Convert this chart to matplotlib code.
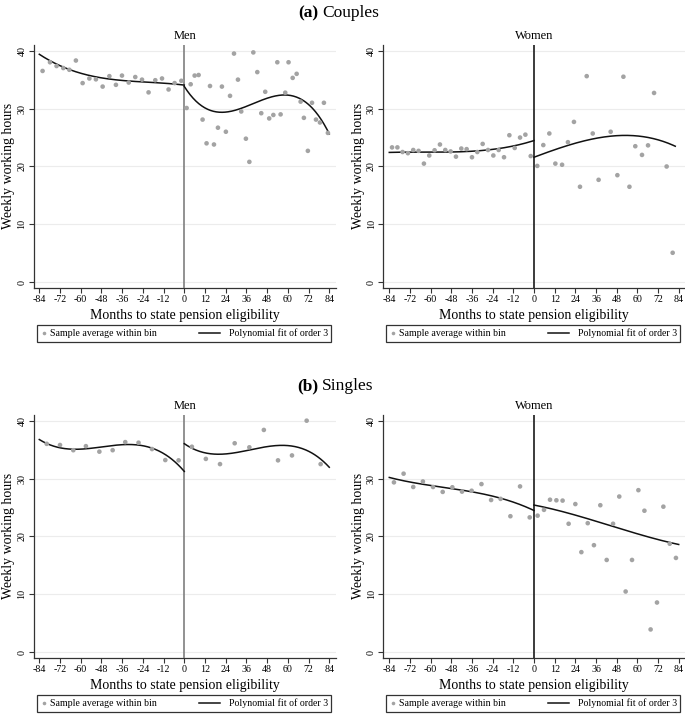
import numpy as np
import matplotlib
matplotlib.use("Agg")
import matplotlib.pyplot as plt
from matplotlib.patches import Rectangle

plt.rcParams['font.family'] = ['Liberation Serif', 'DejaVu Serif']
plt.rcParams['axes.unicode_minus'] = False

x_ticks = [-84, -72, -60, -48, -36, -24, -12, 0, 12, 24, 36, 48, 60, 72, 84]
y_ticks = [0, 10, 20, 30, 40]
legend_labels = ['Sample average within bin', 'Polynomial fit of order 3']

# ---------------- Couples, Men ----------------
cm_x = [-82.1, -77.8, -74.0, -70.1, -66.6, -62.8, -58.9, -55.0, -51.2, -47.3, -43.4, -39.6, -36.1,
        -32.2, -28.4, -24.5, -20.7, -16.8, -12.9, -9.1, -5.6, -1.7,
        1.35, 3.7, 6.0, 8.3, 10.6, 12.9, 14.9, 17.2, 19.5, 21.8, 24.1, 26.5, 28.8, 31.1, 33.0,
        35.7, 37.7, 40.0, 42.3, 44.6, 46.9, 49.2, 51.6, 53.9, 55.8, 58.5, 60.4, 62.8, 65.1,
        67.4, 69.3, 71.6, 74.0, 76.3, 78.6, 80.9, 83.2]
cm_y = [36.5, 38.0, 37.35, 37.0, 36.7, 38.3, 34.4, 35.2, 35.05, 33.8, 35.6, 34.1, 35.7,
        34.5, 35.45, 35.0, 32.8, 34.9, 35.2, 33.3, 34.4, 34.8,
        30.1, 34.2, 35.7, 35.8, 28.1, 24.0, 33.9, 23.8, 26.7, 33.8, 26.0, 32.2, 39.5, 35.0, 29.5,
        24.8, 20.8, 39.7, 36.3, 29.2, 32.9, 28.3, 28.9, 38.0, 29.0, 32.75, 38.0, 35.3, 36.0,
        31.2, 28.4, 22.7, 31.0, 28.1, 27.6, 31.0, 25.8]
cm_fit_left_x = [-84, -72, -60, -48, -36, -24, -12, 0]
cm_fit_left_y = [39.3, 37.6, 36.0, 35.3, 34.8, 34.6, 34.5, 34.0]
cm_fit_right_x = [0, 6, 12, 18, 24, 36, 48, 57, 66, 72, 78, 84]
cm_fit_right_y = [33.7, 31.6, 30.2, 29.5, 29.4, 30.3, 31.6, 32.4, 32.0, 30.8, 28.6, 25.6]

# ---------------- Couples, Women ----------------
cw_x = [-82.4, -79.3, -76.3, -73.2, -70.1, -67.0, -63.9, -60.8, -57.7, -54.6, -51.5, -48.4, -45.3,
        -42.2, -39.1, -36.0, -32.9, -29.8, -26.7, -23.6, -20.5, -17.4, -14.3, -11.2, -8.1, -5.0, -1.9,
        1.9, 5.4, 8.9, 12.4, 16.3, 19.7, 23.2, 26.7, 30.6, 34.1, 37.5, 44.5, 48.4, 51.9, 55.4,
        58.8, 62.7, 66.2, 69.7, 77.0, 80.5]
cw_y = [23.3, 23.3, 22.5, 22.3, 22.85, 22.7, 20.5, 21.9, 22.8, 23.8, 22.85, 22.6, 21.7,
        23.1, 23.0, 21.6, 22.5, 23.9, 22.85, 21.9, 22.85, 21.6, 25.4, 23.2, 25.0, 25.5, 21.8,
        20.1, 23.7, 25.7, 20.5, 20.3, 24.2, 27.7, 16.5, 35.6, 25.7, 17.7, 26.0, 18.5, 35.5, 16.5,
        23.5, 22.0, 23.65, 32.7, 20.0, 5.1]
cw_fit_left_x = [-84, -72, -60, -48, -36, -24, -12, 0]
cw_fit_left_y = [22.45, 22.45, 22.45, 22.55, 22.65, 22.95, 23.5, 24.5]
cw_fit_right_x = [0, 12, 24, 36, 48, 54, 60, 72, 82]
cw_fit_right_y = [21.6, 22.9, 24.0, 24.9, 25.3, 25.35, 25.3, 24.6, 23.5]

# ---------------- Singles, Men ----------------
sm_x = [-79.7, -72.0, -64.3, -57.0, -49.2, -41.5, -34.2, -26.5, -18.7, -11.0, -3.3,
        4.4, 12.5, 20.7, 29.2, 37.7, 46.1, 54.3, 62.4, 70.9, 79.0]
sm_y = [36.0, 35.8, 34.9, 35.6, 34.65, 34.9, 36.3, 36.2, 35.1, 33.2, 33.15,
        35.5, 33.4, 32.5, 36.1, 35.4, 38.4, 33.15, 34.0, 40.0, 32.5]
sm_fit_left_x = [-84, -72, -60, -48, -36, -24, -12, 0]
sm_fit_left_y = [36.7, 35.4, 35.1, 35.4, 35.8, 35.7, 34.4, 31.2]
sm_fit_right_x = [0, 12, 20, 24, 36, 48, 57, 66, 72, 84]
sm_fit_right_y = [36.0, 34.6, 34.1, 34.2, 34.8, 35.6, 35.8, 35.4, 34.6, 32.0]

# ---------------- Singles, Women ----------------
sw_x = [-81.3, -75.7, -70.1, -64.5, -58.6, -53.0, -47.4, -41.8, -36.2, -30.5, -24.9, -19.4,
        -13.7, -8.1, -2.5,
        2.1, 5.8, 9.3, 13.0, 16.6, 20.1, 24.0, 27.5, 31.2, 34.8, 38.5, 42.2, 45.9, 49.5, 53.2,
        56.9, 60.6, 64.1, 67.7, 71.4, 75.1, 78.8, 82.4]
sw_y = [29.35, 30.85, 28.55, 29.5, 28.55, 27.7, 28.5, 27.75, 27.9, 29.05, 26.3, 26.5,
        23.5, 28.65, 23.3,
        23.6, 24.6, 26.35, 26.25, 26.2, 22.2, 25.6, 17.3, 22.3, 18.5, 25.4, 15.95, 22.2, 26.9, 10.5,
        15.95, 28.0, 24.45, 3.95, 8.6, 25.15, 18.75, 16.3]
sw_fit_left_x = [-84, -72, -60, -48, -36, -24, -12, 0]
sw_fit_left_y = [30.2, 29.4, 28.8, 28.3, 27.7, 27.0, 25.9, 24.5]
sw_fit_right_x = [0, 12, 24, 36, 48, 60, 72, 84]
sw_fit_right_y = [25.4, 24.7, 23.7, 22.6, 21.5, 20.5, 19.5, 18.6]

W, H = 685, 714
fig = plt.figure(figsize=(W / 100, H / 100), dpi=100)

SCAT_C = '#a3a3a3'
LINE_C = '#111111'


def px_axes(left, top, right, bottom):
    return fig.add_axes([left / W, 1 - bottom / H, (right - left) / W, (bottom - top) / H])


def fit_line(ax, xs, ys):
    c = np.polyfit(xs, ys, 3)
    xx = np.linspace(min(xs), max(xs), 200)
    ax.plot(xx, np.polyval(c, xx), color=LINE_C, lw=1.1, zorder=4)


def draw_legend(ax):
    t = ax.transAxes
    y0, y1 = -0.2237, -0.1537
    ym = (y0 + y1) / 2
    ax.add_patch(Rectangle((0.0099, y0), 0.973, y1 - y0, transform=t, clip_on=False,
                           facecolor='white', edgecolor='#333333', lw=0.9))
    ax.plot([0.033], [ym], 'o', color=SCAT_C, markersize=2.6, markeredgewidth=0,
            transform=t, clip_on=False)
    ax.text(0.053, ym, legend_labels[0], transform=t, fontsize=7.1, va='center', ha='left')
    ax.plot([0.546, 0.616], [ym, ym], color=LINE_C, lw=1.1, transform=t, clip_on=False)
    ax.text(0.646, ym, legend_labels[1], transform=t, fontsize=7.1, va='center', ha='left')


def panel(ax, title, sx, sy, fl, fr, vline_color, xlim):
    ax.set_xlim(*xlim)
    ax.set_ylim(-0.93, 40.98)
    for y in y_ticks:
        ax.axhline(y, color='#ececec', lw=0.8, zorder=0)
    ax.axvline(0, color=vline_color, lw=1.2, zorder=3)
    ax.scatter(sx, sy, s=11, color=SCAT_C, edgecolors='none', zorder=5)
    fit_line(ax, *fl)
    fit_line(ax, *fr)
    for s in ['top', 'right']:
        ax.spines[s].set_visible(False)
    for s in ['left', 'bottom']:
        ax.spines[s].set_color('#333333')
        ax.spines[s].set_linewidth(0.9)
    ax.set_xticks(x_ticks)
    ax.set_xticklabels([str(v) for v in x_ticks])
    ax.set_yticks(y_ticks)
    ax.set_yticklabels([str(v) for v in y_ticks], rotation=90, va='center')
    ax.tick_params(axis='both', labelsize=7.2, length=3.5, width=0.8, color='#333333', pad=2)
    ax.set_xlabel('Months to state pension eligibility', fontsize=10, labelpad=3)
    ax.set_ylabel('Weekly working hours', fontsize=10, labelpad=1.5)
    ax.set_title(title, fontsize=9, pad=4)
    draw_legend(ax)


men_xlim = (-87.07, 87.9)
women_xlim = (-87.48, 87.66)

ax1 = px_axes(34, 45, 336, 287.7)
panel(ax1, 'Men', cm_x, cm_y, (cm_fit_left_x, cm_fit_left_y), (cm_fit_right_x, cm_fit_right_y),
      '#7f7f7f', men_xlim)
ax2 = px_axes(383.3, 45, 685, 287.7)
panel(ax2, 'Women', cw_x, cw_y, (cw_fit_left_x, cw_fit_left_y), (cw_fit_right_x, cw_fit_right_y),
      '#1a1a1a', women_xlim)
ax3 = px_axes(34, 415, 336, 657.7)
panel(ax3, 'Men', sm_x, sm_y, (sm_fit_left_x, sm_fit_left_y), (sm_fit_right_x, sm_fit_right_y),
      '#7f7f7f', men_xlim)
ax4 = px_axes(383.3, 415, 685, 657.7)
panel(ax4, 'Women', sw_x, sw_y, (sw_fit_left_x, sw_fit_left_y), (sw_fit_right_x, sw_fit_right_y),
      '#1a1a1a', women_xlim)

# section headings
for label, word, ypx in [('(a)', 'Couples', 13), ('(b)', 'Singles', 386)]:
    fig.text(318 / W, 1 - ypx / H, label, fontsize=12.5, fontweight='bold', ha='right', va='center')
    fig.text(322 / W, 1 - ypx / H, word, fontsize=12.5, ha='left', va='center')

fig.savefig('out.png', dpi=100, facecolor='white')
